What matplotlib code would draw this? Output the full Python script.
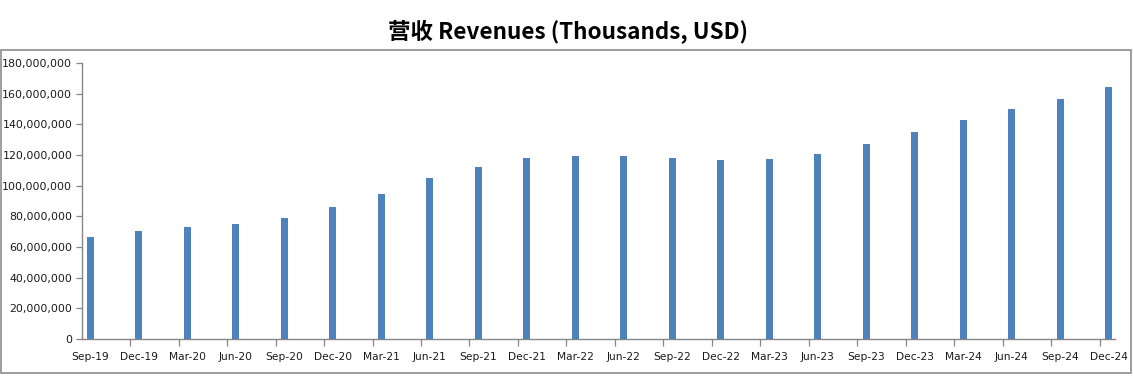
import matplotlib
matplotlib.use("Agg")
import matplotlib.pyplot as plt
from matplotlib.patches import Rectangle
from matplotlib.ticker import FuncFormatter, FixedLocator

quarters = ["Sep-19", "Dec-19", "Mar-20", "Jun-20", "Sep-20", "Dec-20", "Mar-21", "Jun-21",
            "Sep-21", "Dec-21", "Mar-22", "Jun-22", "Sep-22", "Dec-22", "Mar-23", "Jun-23",
            "Sep-23", "Dec-23", "Mar-24", "Jun-24", "Sep-24", "Dec-24"]
revenues = [66.5e6, 70.4e6, 73.1e6, 75.2e6, 78.9e6, 86.1e6, 94.6e6, 105.0e6,
            112.2e6, 118.1e6, 119.4e6, 119.4e6, 118.1e6, 116.8e6, 117.4e6, 120.7e6,
            127.2e6, 135.0e6, 142.9e6, 150.0e6, 156.6e6, 164.4e6]
y_ticks = [0, 20e6, 40e6, 60e6, 80e6, 100e6, 120e6, 140e6, 160e6, 180e6]

W, H = 1133, 379
fig = plt.figure(figsize=(W / 100, H / 100), dpi=100)

# chart border
fig.patches.append(Rectangle((0.5 / W, 1 - 373 / H), 1130.5 / W, 323 / H,
                             transform=fig.transFigure, fill=False,
                             edgecolor="#8c8c8c", linewidth=1.2))

ax = fig.add_axes([82 / W, 1 - 339 / H, (1115 - 82) / W, (339 - 63) / H])
x = list(range(len(quarters)))
ax.bar(x, revenues, width=0.145, color="#4F81BD", zorder=3)

ax.set_xlim(-0.17, 21.13)
ax.set_ylim(0, 180e6)
ax.set_yticks(y_ticks)
ax.yaxis.set_major_formatter(FuncFormatter(lambda v, p: f"{int(v):,}"))

ax.set_xticks(x)
ax.set_xticklabels(quarters)
ax.xaxis.set_minor_locator(FixedLocator([i - 0.18 for i in x]))
ax.tick_params(axis="x", which="major", length=0, pad=9, labelsize=7.7, labelcolor="#1a1a1a")
ax.tick_params(axis="x", which="minor", length=5, width=0.9, color="#868686")
ax.tick_params(axis="y", length=4, width=0.9, color="#868686", labelsize=7.9,
               labelcolor="#1a1a1a", pad=3)

for s in ["top", "right"]:
    ax.spines[s].set_visible(False)
for s in ["left", "bottom"]:
    ax.spines[s].set_color("#868686")
    ax.spines[s].set_linewidth(1.0)

fig.text(568 / W, 1 - 32 / H, "营收 Revenues (Thousands, USD)", ha="center", va="center",
         fontsize=16.2, fontweight="bold", family=["Noto Sans CJK SC", "DejaVu Sans"])

fig.savefig("out.png", dpi=100)
